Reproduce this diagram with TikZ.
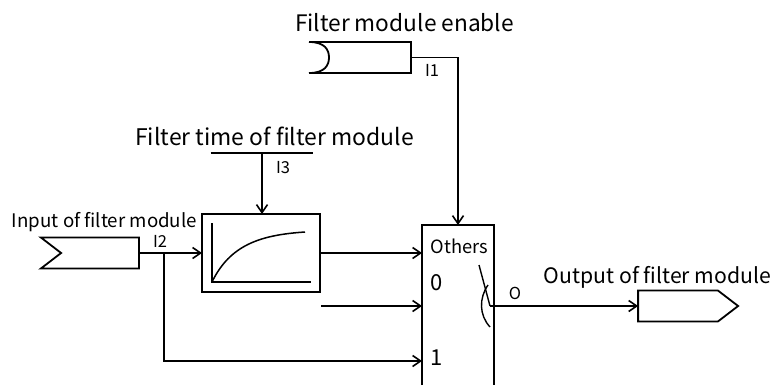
\documentclass[tikz,border=0pt]{standalone}
\usepackage{fontspec}
\setmainfont{Noto Sans CJK SC}
\usepackage{tikz}
\usetikzlibrary{positioning,arrows.meta,shapes.symbols}

\begin{document}
\begin{tikzpicture}[
    x=1pt,y=-1pt,
    line width=1.8pt,
    node distance=10pt,
    box/.style={draw,outer sep=0pt,inner sep=0pt},
    port/.style={box,signal,signal pointer angle=75,minimum width=98pt,minimum height=31pt},
    title/.style={inner sep=0pt,font=\fontsize{#1}{#1}\selectfont},
    tag/.style={inner sep=0pt,font=\fontsize{16.5}{16.5}\selectfont},
    link/.style={-{Straight Barb[length=8pt,width=11pt,line width=1.6pt]}},
    wire/.style={-},
  ]
    \useasboundingbox (0,0) rectangle (775,385);

    \node[outer sep=0pt,inner sep=0pt,minimum width=102pt,minimum height=31pt] (enable) at (360,57.5) {};
    \node[title=22.7] at (404.5,23) (enabletext) {Filter module enable};
    \draw (enable.north west) -- (enable.north east) -- (enable.south east) -- (enable.south west);
    \draw (enable.north west) .. controls (325,42) and (329,50) .. (329,57.5) .. controls (329,65) and (325,73) .. (enable.south west);

    \node[port,signal from=west,signal to=nowhere] (input) at (100,253) {};
    \node[title=18.7] at (104.5,222) (inputtext) {Input of filter module};

    \node[box,minimum width=118pt,minimum height=78pt] (filter) at (261,253) {};
    \coordinate (origin) at (212,282);
    \draw[line width=1.5pt] (212,223) -- (origin) -- (311,282);
    \draw[line width=1.5pt] (origin) .. controls (230,245) and (260,235) .. (305,232);

    \node[minimum width=101pt,inner sep=0pt] (timeline) at (262,153) {};
    \draw (timeline.west) -- (timeline.east);
    \node[title=22.9] at (274.5,136) (timetext) {Filter time of filter module};

    \node[outer sep=0pt,inner sep=0pt,minimum width=72pt,minimum height=160pt,anchor=north west] (mux) at (422,225) {};
    \draw (mux.south west) -- (mux.north west) -- (mux.north east) -- (mux.south east);
    \node[title=18.3] at (459.5,246) (others) {Others};
    \node[title=22] at (437,283) (zero) {0};
    \node[title=22] at (437,358) (one) {1};

    \node[port,signal to=east,signal from=nowhere,minimum width=100pt] (output) at (678,306) {};
    \node[title=21.2] at (657.5,277) (outputtext) {Output of filter module};

    \coordinate (pivot) at (490,306);
    \draw[line width=1.4pt] (479,265) -- (pivot);
    \draw[line width=1.4pt] (488,285) .. controls (479,298) and (479,315) .. (490,327);

    \coordinate (branch) at (164,253);
    \coordinate (stub) at (321,306);

    \draw[wire] (enable.east) -| (458,200);
    \draw[link] (458,200) -- (mux.north -| 458,0);
    \draw[link] (timeline.center) -- (timeline.center |- filter.north);
    \draw[link] (input.east) -- (filter.west);
    \draw[link] (branch) |- (mux.west |- 0,361);
    \draw[link] (filter.east) -- (mux.west |- filter.east);
    \draw[link] (stub) -- (mux.west |- stub);
    \draw[link] (pivot) -- (output.west);

    \node[tag] at (432,70) (tagone) {I1};
    \node[tag] at (160,241) (tagtwo) {I2};
    \node[tag] at (283,168) (tagthree) {I3};
    \node[tag] at (515,293) (tagout) {O};
\end{tikzpicture}
\end{document}
